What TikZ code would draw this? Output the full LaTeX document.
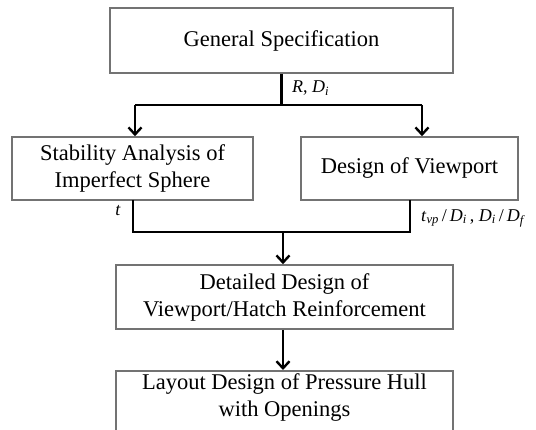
\documentclass[tikz,border=0pt]{standalone}
\usepackage{fontspec}
\setmainfont{Liberation Serif}
\usetikzlibrary{arrows.meta,shadows}
\begin{document}
\begin{tikzpicture}[x=1pt,y=-1pt,
  box/.style={draw=black!55, line width=1.6pt, fill=white, align=center, inner sep=0pt,
    font=\fontsize{22.5}{27}\selectfont,
    drop shadow={shadow xshift=1.2pt, shadow yshift=-1.2pt, opacity=0.35, fill=black!60}},
  txt/.style={align=center, font=\fontsize{22.5}{27}\selectfont, inner sep=0pt},
  lbl/.style={font=\fontsize{18}{20}\selectfont, inner sep=0pt},
  conn/.style={line width=2.6pt, black},
  arr/.style={conn, -{Straight Barb[length=7pt,width=13pt,line width=2.4pt]}}]
\useasboundingbox (0,0) rectangle (536,430);
\begin{scope}
\clip (0,0) rectangle (536,430);
\node[box, minimum width=343pt, minimum height=65pt] (gen) at (281.5,40.5) {General Specification};
\node[box, minimum width=241pt, minimum height=63pt] (stab) at (132.5,168.5) {Stability Analysis of\\Imperfect Sphere};
\node[box, minimum width=217pt, minimum height=63pt] (view) at (409.5,168.5) {Design of Viewport};
\node[box, minimum width=337pt, minimum height=64pt] (det) at (284.5,297) {Detailed Design of\\Viewport/Hatch Reinforcement};
\node[box, anchor=north, minimum width=337pt, minimum height=80pt] (lay) at (284.5,370) {};
\node[txt] (laytxt) at (284.5,398) {Layout Design of Pressure Hull\\with Openings};

\coordinate (j1) at (gen.south |- 0,105);
\coordinate (jl) at (135,105);
\coordinate (jr) at (422,105);
\draw[conn] (gen.south) -- (j1);
\draw[conn] (jl) -- (jr);
\draw[arr] (jl) -- (jl |- stab.north);
\draw[arr] (jr) -- (jr |- view.north);

\coordinate (sl) at (133,200);
\coordinate (sr) at (410,200);
\coordinate (j2) at (283,232);
\draw[conn] (sl) -- (sl |- j2) -- (sr |- j2) -- (sr);
\draw[arr] (j2) -- (j2 |- det.north);
\draw[arr] (det.south -| j2) -- (j2 |- lay.north);

\node[lbl, anchor=west] (lr) at (292,88) {\textit{R}, \textit{D}\textsubscript{\textit{i}}};
\node[lbl] (lt) at (118,211) {\textit{t}};
\node[lbl, anchor=west] (ltv) at (421,218) {\textit{t}\textsubscript{\textit{vp}}\,/\,\textit{D}\textsubscript{\textit{i}}\,, \textit{D}\textsubscript{\textit{i}}\,/\,\textit{D}\textsubscript{\textit{f}}};
\end{scope}
\end{tikzpicture}
\end{document}
